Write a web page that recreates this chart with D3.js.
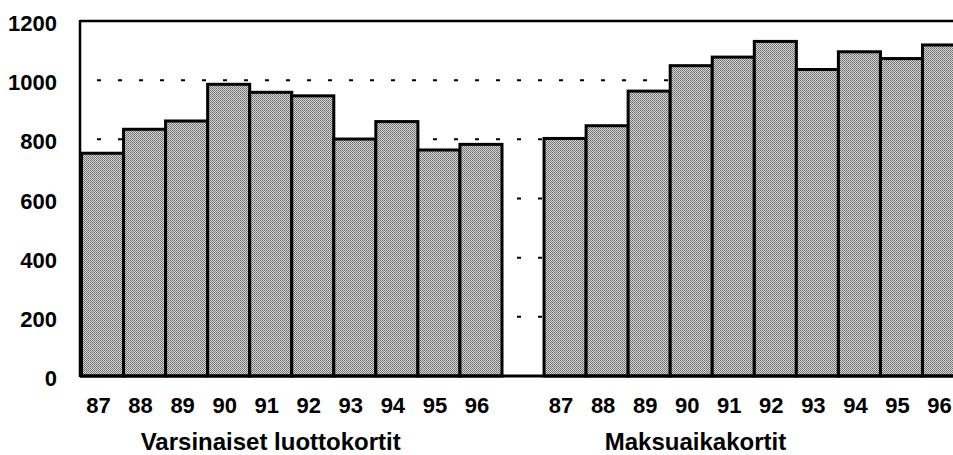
<!DOCTYPE html>
<html lang="fi">
<head>
<meta charset="UTF-8">
<title>Luottokortit</title>
<style>
  body { margin: 0; background: #fff; }
  text { font-family: "Liberation Sans", Arial, sans-serif; font-weight: bold; fill: #000; }
</style>
</head>
<body>
<svg id="chart" width="953" height="455"></svg>
<script src="https://d3js.org/d3.v7.min.js"></script>
<script>
// data
const years = ["87", "88", "89", "90", "91", "92", "93", "94", "95", "96"];
const varsinaiset = [753, 834, 862, 986, 959, 947, 801, 860, 764, 783];
const maksuaika = [803, 846, 963, 1049, 1078, 1131, 1036, 1096, 1073, 1119];
const groupNames = ["Varsinaiset luottokortit", "Maksuaikakortit"];
const yTicks = [0, 200, 400, 600, 800, 1000, 1200];

const svg = d3.select("#chart"),
    width = +svg.attr("width");

// 10 bars, one empty slot, 10 bars
const slots = years.map(y => "a" + y).concat(["gap"], years.map(y => "b" + y));
const bars = years.map((y, i) => ({ key: "a" + y, year: y, value: varsinaiset[i] }))
    .concat(years.map((y, i) => ({ key: "b" + y, year: y, value: maksuaika[i] })));

const x = d3.scaleBand().domain(slots).range([81.5, 81.5 + 21 * 42.05]).padding(0);
const y = d3.scaleLinear().domain([0, 1200]).range([376, 21]);

// halftone-ish fill
const defs = svg.append("defs");
const pat = defs.append("pattern")
    .attr("id", "dots").attr("width", 2).attr("height", 2)
    .attr("patternUnits", "userSpaceOnUse");
pat.append("rect").attr("width", 2).attr("height", 2).attr("fill", "#d4d4d4");
pat.append("rect").attr("width", 1).attr("height", 1).attr("fill", "#6e6e6e");
pat.append("rect").attr("x", 1).attr("y", 1).attr("width", 1).attr("height", 1).attr("fill", "#7e7e7e");

// dotted grid lines
svg.append("g")
    .selectAll("line")
    .data(yTicks.filter(t => t > 0 && t < 1200))
    .join("line")
    .attr("x1", 80).attr("x2", width)
    .attr("y1", d => y(d)).attr("y2", d => y(d))
    .attr("stroke", "#000").attr("stroke-width", 2)
    .attr("stroke-dasharray", "4,17")
    .attr("stroke-dashoffset", 4);

// bars
svg.append("g")
    .selectAll("rect")
    .data(bars)
    .join("rect")
    .attr("x", d => x(d.key))
    .attr("y", d => y(d.value))
    .attr("width", x.bandwidth())
    .attr("height", d => y(0) - y(d.value))
    .attr("fill", "url(#dots)")
    .attr("stroke", "#000")
    .attr("stroke-width", 3);

// frame
svg.append("line").attr("x1", 80).attr("x2", width).attr("y1", y(1200)).attr("y2", y(1200))
    .attr("stroke", "#000").attr("stroke-width", 2.5);
svg.append("line").attr("x1", 80).attr("x2", width).attr("y1", y(0)).attr("y2", y(0))
    .attr("stroke", "#000").attr("stroke-width", 3);
svg.append("line").attr("x1", 80).attr("x2", 80).attr("y1", y(1200) - 1).attr("y2", y(0) + 1)
    .attr("stroke", "#000").attr("stroke-width", 2.5);

// y labels
svg.append("g")
    .selectAll("text")
    .data(yTicks)
    .join("text")
    .attr("x", 57)
    .attr("y", d => y(d) + 10)
    .attr("text-anchor", "end")
    .attr("font-size", 22)
    .text(d => d);

// x labels
svg.append("g")
    .selectAll("text")
    .data(bars)
    .join("text")
    .attr("x", d => x(d.key) + x.bandwidth() / 2 - 4)
    .attr("y", 413)
    .attr("text-anchor", "middle")
    .attr("font-size", 22)
    .text(d => d.year);

// group titles
const titleX = [
    x("a91") + x.bandwidth() / 2,
    x("b90") + x.bandwidth() * 0.6
];
svg.append("g")
    .selectAll("text")
    .data(groupNames)
    .join("text")
    .attr("x", (d, i) => titleX[i])
    .attr("y", 450)
    .attr("text-anchor", "middle")
    .attr("font-size", 24)
    .text(d => d);
</script>
</body>
</html>
